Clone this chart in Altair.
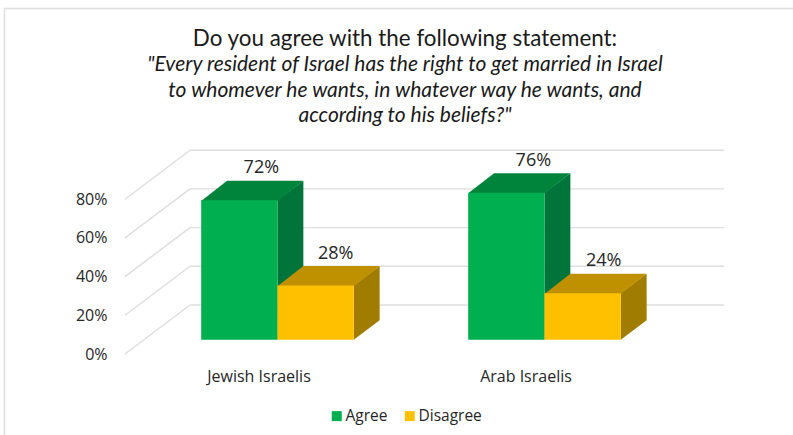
import altair as alt
import pandas as pd

# Survey results, percent of respondents
groups = ["Jewish Israelis", "Arab Israelis"]
responses = ["Agree", "Disagree"]
agree = [72, 76]
disagree = [28, 24]
y_ticks = [0, 20, 40, 60, 80]

title_text = "Do you agree with the following statement:"
subtitle_lines = [
    '"Every resident of Israel has the right to get married in Israel',
    "to whomever he wants, in whatever way he wants, and",
    'according to his beliefs?"',
]

# Plot frame and unit sizes, in pixels
PAD_LEFT, PAD_TOP, PLOT_W, PLOT_H = 125, 150, 600, 204
PX_PER_GROUP = 267.0
PX_PER_PCT = 1.935

# Oblique projection: one full wall depth shifts a point right and up
DEPTH_X = 65 / PX_PER_GROUP
DEPTH_Y = 49 / PX_PER_PCT
BAR_FRONT = 0.292
BAR_BACK = 0.69
BAR_W = 76.3 / PX_PER_GROUP
SEAM = 0.7 / PX_PER_PCT  # top face tucks under the front face to hide the joint

FRONT = {"Agree": "#00B050", "Disagree": "#FFC000"}
TOP = {"Agree": "#00843C", "Disagree": "#BF9000"}
SIDE = {"Agree": "#00743A", "Disagree": "#A07D00"}
GRID = "#DEDEDE"
INK = "#262626"
FONT = "Open Sans"
TITLE_FONT = "Lato"


def px(u, depth):
    return u + depth * DEPTH_X


def py(v, depth):
    return v + depth * DEPTH_Y


front_rows, side_rows, top_rows, label_rows = [], [], [], []
label_nudge = {(0, "Agree"): 22, (0, "Disagree"): 20, (1, "Agree"): 27, (1, "Disagree"): 21}
for g, name in enumerate(groups):
    for s, (resp, value) in enumerate(zip(responses, [agree[g], disagree[g]])):
        left = g + (s - 1) * BAR_W
        right = left + BAR_W
        bar = f"{name}-{resp}"
        front_rows.append({"response": resp, "x": px(left, BAR_FRONT), "x2": px(right, BAR_FRONT),
                           "y": py(0, BAR_FRONT), "y2": py(value, BAR_FRONT)})
        for depth in (BAR_FRONT, BAR_BACK):
            side_rows.append({"bar": bar, "fill": SIDE[resp], "x": px(right, depth),
                              "y": py(0, depth), "y2": py(value, depth)})
            tuck = SEAM if depth == BAR_FRONT else 0
            top_rows.append({"bar": bar, "fill": TOP[resp], "x": px(left, depth),
                             "x2": px(right, depth), "y": py(value, depth) - tuck})
        label_rows.append({"text": f"{value}%",
                           "x": px(left + BAR_W / 2, BAR_FRONT) + label_nudge[(g, resp)] / PX_PER_GROUP,
                           "y": py(value, BAR_FRONT) + 32 / PX_PER_PCT})

grid_rows = []
for v in y_ticks:
    grid_rows.append({"x": -0.5, "x2": px(-0.5, 1), "y": v, "y2": py(v, 1)})
    grid_rows.append({"x": px(-0.5, 1), "x2": px(1.5, 1), "y": py(v, 1), "y2": py(v, 1)})

x_scale = alt.Scale(domain=[-0.5, -0.5 + PLOT_W / PX_PER_GROUP], nice=False, zero=False)
y_scale = alt.Scale(domain=[0, PLOT_H / PX_PER_PCT], nice=False, zero=False)

x_axis = alt.Axis(
    values=[0, 1], title=None, grid=False, domain=False, ticks=False, labelPadding=14,
    labelExpr=f"datum.value == 0 ? '{groups[0]}' : '{groups[1]}'",
    labelFont=FONT, labelFontSize=16, labelColor=INK,
)
y_axis = alt.Axis(
    values=y_ticks, title=None, grid=False, domain=False, ticks=False, labelPadding=18,
    labelExpr="datum.value + '%'", labelFont=FONT, labelFontSize=16, labelColor=INK,
)

X = alt.X("x:Q", scale=x_scale, axis=x_axis)
Y = alt.Y("y:Q", scale=y_scale, axis=y_axis)

grid = alt.Chart(pd.DataFrame(grid_rows)).mark_rule(color=GRID, strokeWidth=1.4).encode(
    x=X, x2="x2:Q", y=Y, y2="y2:Q"
)
sides = alt.Chart(pd.DataFrame(side_rows)).mark_area(opacity=1).encode(
    x=X, y=Y, y2="y2:Q", detail="bar:N", color=alt.Color("fill:N", scale=None)
)
tops = alt.Chart(pd.DataFrame(top_rows)).mark_area(orient="horizontal", opacity=1).encode(
    x=X, x2="x2:Q", y=Y, detail="bar:N", color=alt.Color("fill:N", scale=None)
)
fronts = alt.Chart(pd.DataFrame(front_rows)).mark_rect().encode(
    x=X, x2="x2:Q", y=Y, y2="y2:Q",
    color=alt.Color(
        "response:N",
        scale=alt.Scale(domain=responses, range=[FRONT[r] for r in responses]),
        legend=alt.Legend(
            title=None, orient="none", direction="horizontal", legendX=204, legendY=258,
            symbolType="square", symbolSize=100, symbolStrokeWidth=0, columnPadding=14,
            labelOffset=1, labelFont=FONT, labelFontSize=15.5, labelColor=INK,
        ),
    ),
)
labels = alt.Chart(pd.DataFrame(label_rows)).mark_text(
    font=FONT, fontSize=18, color=INK, baseline="middle", align="center"
).encode(x=X, y=Y, text="text:N")

# Thin frame along the top and left edges of the card
frame_top = alt.Chart(pd.DataFrame({"a": [0]})).mark_rule(color=GRID, strokeWidth=1.5).encode(
    x=alt.value(4 - PAD_LEFT), x2=alt.value(793 - PAD_LEFT), y=alt.value(8.5 - PAD_TOP)
)
frame_left = alt.Chart(pd.DataFrame({"a": [0]})).mark_rule(color=GRID, strokeWidth=1.5).encode(
    x=alt.value(4.5 - PAD_LEFT), y=alt.value(8 - PAD_TOP), y2=alt.value(435 - PAD_TOP)
)

chart = alt.layer(frame_top, frame_left, grid, sides, tops, fronts, labels).resolve_scale(
    color="independent"
).properties(
    width=PLOT_W,
    height=PLOT_H,
    background="white",
    autosize=alt.AutoSizeParams(type="none"),
    padding={"left": PAD_LEFT, "top": PAD_TOP, "right": 793 - PAD_LEFT - PLOT_W, "bottom": 435 - PAD_TOP - PLOT_H},
    title=alt.TitleParams(
        text=title_text, subtitle=subtitle_lines, anchor="middle", frame="group", dx=-20, offset=-119,
        font=TITLE_FONT, fontSize=22.4, fontWeight="normal", color="#1A1A1A",
        subtitleFont=TITLE_FONT, subtitleFontSize=21, subtitleFontStyle="italic",
        subtitleColor="#1A1A1A", subtitleLineHeight=25.5, subtitlePadding=4,
    ),
).configure_view(stroke=None)

chart.save("out.html", embed_options={"renderer": "svg", "actions": False})
